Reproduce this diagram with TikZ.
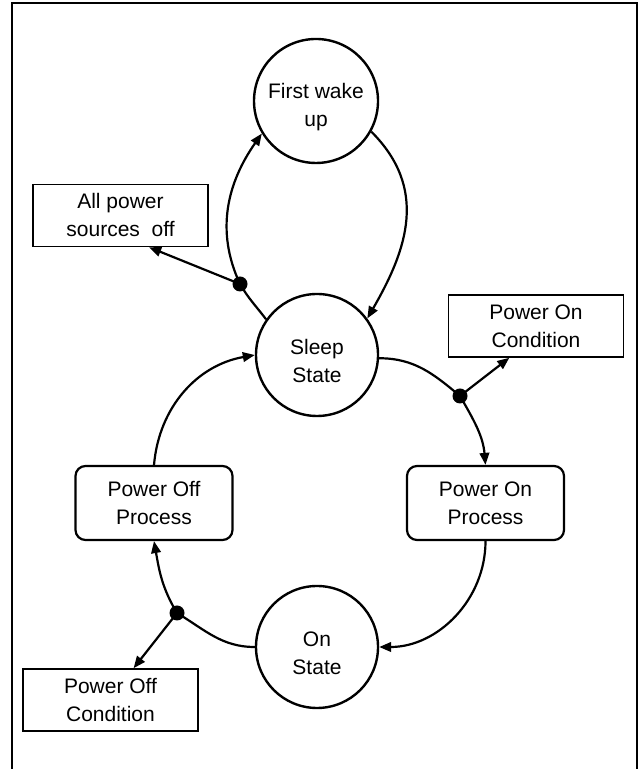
\documentclass[tikz,border=0pt]{standalone}
\usepackage{fontspec}
\setmainfont{Liberation Sans}
\usetikzlibrary{arrows.meta,positioning,shapes.geometric}

\begin{document}
\begin{tikzpicture}[x=0.5pt, y=0.5pt, every node/.style={font=\fontsize{10.5}{14}\selectfont, align=center}]
\tikzset{state/.style={draw, circle, line width=1.2pt, minimum size=61pt, inner sep=1pt}}
\tikzset{proc/.style={draw, rounded corners=5pt, line width=1.1pt, minimum width=78.5pt, minimum height=37pt, inner sep=1pt}}
\tikzset{cond/.style={draw, line width=0.8pt, minimum width=87.5pt, minimum height=31pt, inner sep=1pt}}
\tikzset{jn/.style={circle, fill, minimum size=7.5pt, inner sep=0pt}}
\tikzset{conn/.style={line width=1.1pt, -{Triangle[length=6pt, width=4.8pt]}}}
\tikzset{txt/.style={label={[yshift=-3pt]center:#1}}}
\useasboundingbox (0,0) rectangle (638,769);
\draw[line width=0.9pt] (12,0) -- (12,766) -- (637,766) -- (637,0);
% states
\node[state, minimum size=62pt, txt={First wake\\up}] (first) at (316,668) {};
\node[state, txt={Sleep\\State}] (sleep) at (317,414) {};
\node[state, txt={On\\State}] (on) at (317,122) {};
\node[proc] (pon) at (485.5,266) {Power On\\Process};
\node[proc] (poff) at (154,266) {Power Off\\Process};
% conditions
\node[cond] (allpw) at (120.5,553.5) {All power\\sources\ \ off};
\node[cond] (poncond) at (536,443) {Power On\\Condition};
\node[cond] (poffcond) at (110.5,69) {Power Off\\Condition};
\node[jn] (j1) at (240,485) {};
\node[jn] (j2) at (460,373) {};
\node[jn] (j3) at (177,156) {};
% transitions
\draw[conn] (sleep.145) to[out=127,in=-60] (j1.center) to[out=115,in=235] (first.211);
\draw[conn] (first.-29) to[out=-45,in=60,looseness=1.1] (sleep.36);
\draw[conn] (sleep.-3) to[out=0,in=140] (j2.center) to[out=-60,in=95] (pon.north);
\draw[conn] (pon.south) to[out=-90,in=0] (on.east);
\draw[conn] (on.west) to[out=180,in=-31] (j3.center) to[out=121,in=-80] (poff.south);
\draw[conn] (poff.north) to[out=85,in=190] (sleep.west);
\draw[conn] (j1.center) -- (allpw.-48);
\draw[conn] (j2.center) -- (poncond.230);
\draw[conn] (j3.center) -- (poffcond.54);
\end{tikzpicture}
\end{document}
